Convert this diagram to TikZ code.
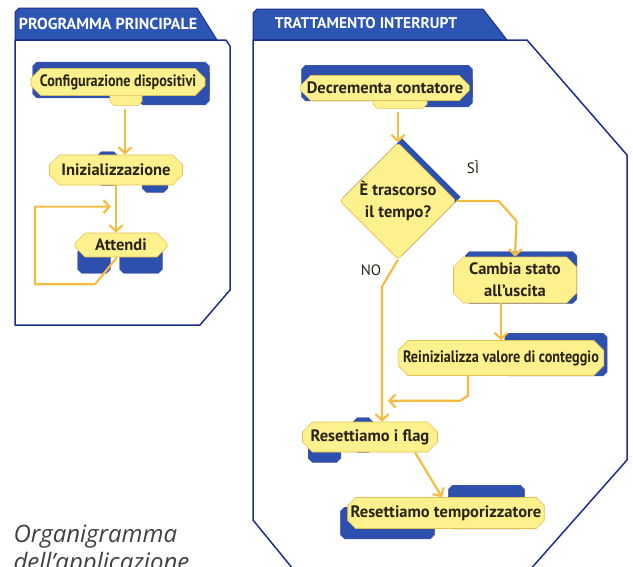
\documentclass[tikz,border=0pt]{standalone}
\usepackage{fontspec}
\setmainfont{PT Sans}
\newfontfamily\capfont{Open Sans}
\usepackage{xcolor}
\definecolor{panelblue}{RGB}{30, 45, 140}
\definecolor{tabblue}{RGB}{45, 85, 180}
\definecolor{plateblue}{RGB}{45, 80, 175}
\definecolor{boxfill}{RGB}{253, 241, 142}
\definecolor{boxedge}{RGB}{228, 192, 80}
\definecolor{flowline}{RGB}{245, 188, 66}
\definecolor{ink}{RGB}{40, 36, 20}
\usepackage{tikz}
\usetikzlibrary{shapes,arrows.meta,backgrounds,calc}

% blue plate peeking out behind a box
\newcommand{\plate}[3]{%
  \fill[plateblue, draw=panelblue!80, line width=0.4pt]
    let \p1=([shift={#2}]#1.west |- #1.north), \p2=([shift={#3}]#1.east |- #1.south) in
    (\x1+4pt,\y1) -- (\x2-4pt,\y1) -- (\x2,\y1-4pt) -- (\x2,\y2+4pt) -- (\x2-4pt,\y2)
    -- (\x1+4pt,\y2) -- (\x1,\y2+4pt) -- (\x1,\y1-4pt) -- cycle;}

\begin{document}
\begin{tikzpicture}[x=1pt, y=-1pt,
  box/.style={chamfered rectangle, chamfered rectangle xsep=5pt, chamfered rectangle ysep=5pt,
    fill=boxfill, draw=boxedge, line width=0.6pt, align=center, inner sep=1pt,
    text=ink, font=\bfseries\fontsize{16.5}{22}\selectfont},
  test/.style={diamond, rounded corners=3pt, fill=boxfill, draw=boxedge, line width=0.6pt,
    align=center, inner sep=0pt, minimum width=116pt, minimum height=113pt,
    text=ink, font=\bfseries\fontsize{16.5}{22}\selectfont},
  lip/.style={fill=boxfill, draw=boxedge, line width=0.6pt},
  flow/.style={draw=flowline, line width=2.2pt, line join=round,
    -{Straight Barb[length=6pt,width=13pt]}},
  panel/.style={draw=panelblue, line width=1.5pt, line join=round},
  tab/.style={fill=tabblue, draw=panelblue, line width=1pt, line join=round},
  tabtext/.style={text=white, font=\bfseries\fontsize{15.5}{17}\selectfont},
  answer/.style={text=ink, font=\fontsize{15}{17}\selectfont}
]
\useasboundingbox (0,0) rectangle (633,566);

% panels
\fill[tab] (15,40) -- (15,12) -- (19,8) -- (197,8) -- (217,40) -- cycle;
\node[tabtext, font=\bfseries\fontsize{16}{17}\selectfont] (head1) at (108,24) {PROGRAMMA PRINCIPALE};
\draw[panel] (15,40) -- (226,40) -- (230,46) -- (230,290) -- (200,325) -- (15,325) -- cycle;

\fill[tab] (253,40) -- (253,13) -- (257,9) -- (483,9) -- (507,40) -- cycle;
\node[tabtext] (head2) at (366,23) {TRATTAMENTO INTERRUPT};
\draw[panel] (302,580) -- (253,520) -- (253,40) -- (527,40) -- (627,155) -- (627,460) -- (521,580);

% main program
\node[box, minimum width=174pt, minimum height=25pt] (conf) at (118,82) {\scalebox{0.86}[1]{Configurazione dispositivi}};
\node[box, minimum width=133pt, minimum height=30pt] (init) at (116,170) {Inizializzazione};
\node[box, minimum width=92pt, minimum height=23pt] (wait) at (121,245) {Attendi};

% interrupt handler
\node[box, minimum width=165pt, minimum height=25pt] (dec) at (385,88) {Decrementa contatore};
\node[test] (dia) at (398,201) {È trascorso\\il tempo?};
\node[box, minimum width=123pt, minimum height=46pt] (cambia) at (515,280) {Cambia stato\\all’uscita};
\node[box, inner sep=0pt, minimum width=202pt, minimum height=35pt] (reinit) at (501,358) {\scalebox{0.86}[1]{Reinizializza valore di conteggio}};
\node[box, minimum width=135pt, minimum height=30pt] (flag) at (370,437) {Resettiamo i flag};
\node[box, inner sep=0pt, chamfered rectangle xsep=3pt, minimum width=188pt, minimum height=31pt] (temp) at (446,513) {Resettiamo temporizzatore};

\node[answer] (si) at (473,167) {SÌ};
\node[answer] (lblno) at (371,270) {NO};

\begin{scope}[on background layer]
  \plate{conf}{(2pt,6pt)}{(4pt,-2pt)}
  \plate{conf}{(108pt,0pt)}{(4pt,-9pt)}
  \plate{init}{(48pt,3pt)}{(-65pt,0pt)}
  \plate{init}{(93pt,-10pt)}{(-15pt,-7pt)}
  \plate{wait}{(3pt,-15pt)}{(-57pt,-16pt)}
  \plate{wait}{(45pt,-15pt)}{(-5pt,-16pt)}
  \plate{dec}{(1pt,10pt)}{(3pt,0pt)}
  \plate{dec}{(117pt,0pt)}{(3pt,-6pt)}
  \fill[plateblue] ([shift={(4pt,4pt)}]dia.north) -- ([shift={(4pt,4pt)}]dia.east)
    -- ([shift={(4pt,4pt)}]dia.south) -- ([shift={(4pt,4pt)}]dia.west) -- cycle;
  \plate{cambia}{(12pt,5pt)}{(0pt,0pt)}
  \plate{reinit}{(107pt,7pt)}{(3pt,0pt)}
  \plate{flag}{(51pt,4pt)}{(-65pt,0pt)}
  \plate{flag}{(6pt,-10pt)}{(-97pt,-10pt)}
  \plate{temp}{(101pt,12pt)}{(-20pt,0pt)}
  \plate{temp}{(-7pt,-10pt)}{(-110pt,-10pt)}
  % yellow lips under the first boxes
  \filldraw[lip] ([shift={(-8pt,4pt)}]conf.south) -- ++(0,9.5) -- ++(4,4) -- ++(24,0) -- ++(4,-4) -- ++(0,-9.5);
  \filldraw[lip] ([shift={(-12pt,4pt)}]dec.south) -- ++(0,7.5) -- ++(4,4) -- ++(46,0) -- ++(4,-4) -- ++(0,-7.5);
\end{scope}

% connectors
\draw[flow] ([shift={(7pt,-13pt)}]conf.south) -- ([xshift=7pt]conf.south |- init.north);
\draw[flow] (init.south) -- (init.south |- wait.north);
\coordinate (merge) at ($(init.south)!.45!(init.south |- wait.north) + (-5pt,0)$);
\draw[flow] ([xshift=-4pt]wait.south) -- ++(-22,27) -- ++(-60,0) |- (merge);

\draw[flow] ([yshift=-11.5pt]dec.south -| dia.north) -- (dia.north);
\draw[flow] (dia.east) -- ++(42,0) -- ++(18,20) -- (cambia.north);
\draw[flow] (dia.south) -- ++(-16,27) coordinate (n1) -- (n1 |- flag.north);
\draw[flow] ([xshift=-14pt]cambia.south) -- ([xshift=-14pt]cambia.south |- reinit.north);
\draw[flow] ([xshift=-33pt]reinit.south) -- ++(0,20) coordinate (j) -- ++(-8,5)
  -- ([xshift=6pt]n1 |- {$(j)+(0,5)$});
\draw[flow] ([xshift=45pt]flag.south) -- ([xshift=-4pt]temp.north);

\node[anchor=base west, align=left, text=black!75,
  font=\capfont\itshape\fontsize{24}{28}\selectfont] (caption) at (10,570) {Organigramma\\dell’applicazione};
\end{tikzpicture}
\end{document}
